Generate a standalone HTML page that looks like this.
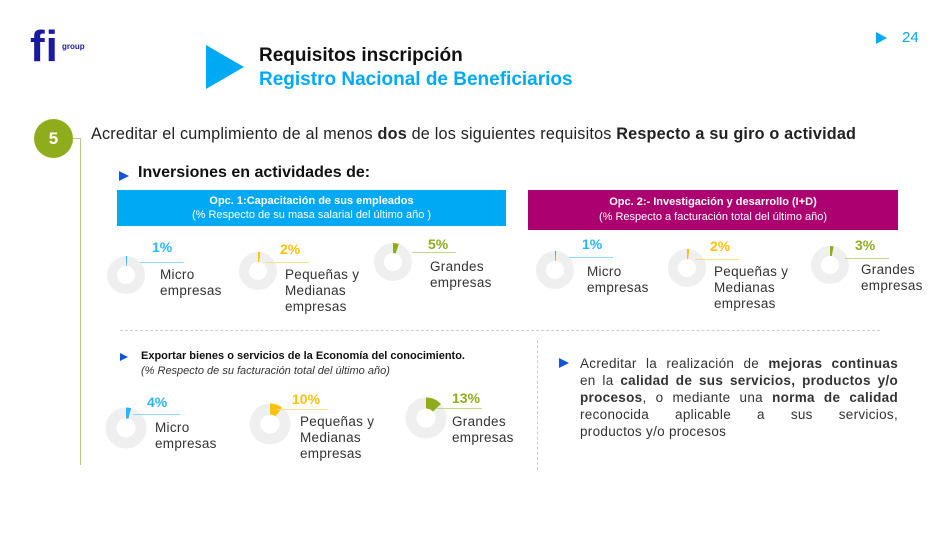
<!DOCTYPE html>
<html><head><meta charset="utf-8">
<style>
*{margin:0;padding:0;box-sizing:border-box}
body{width:947px;height:533px;background:#fff;position:relative;overflow:hidden;font-family:"DejaVu Sans","Liberation Sans",sans-serif;color:#222}
.a{position:absolute;white-space:nowrap}
.lbl{position:absolute;font-size:13.5px;line-height:16px;color:#333;font-family:"Liberation Sans",sans-serif;letter-spacing:0.3px}
.pct{position:absolute;font-size:14px;font-weight:bold;font-family:"Liberation Sans",sans-serif}
.ln{position:absolute;height:1px}
svg.d{position:absolute}
.jl{text-align:justify;text-align-last:justify;height:17px}
</style></head><body>
<!-- logo -->
<div class="a" style="left:30px;top:22px;font-size:44px;font-weight:bold;color:#1a1aa0;font-family:'Liberation Sans',sans-serif;line-height:50px;font-variant-ligatures:none">f<span style="margin-left:1px">i</span></div>
<div class="a" style="left:62px;top:42px;font-size:8px;font-weight:bold;color:#1a1aa0;font-family:'Liberation Sans',sans-serif">group</div>
<!-- page num -->
<div class="a" style="left:876px;top:32px;width:0;height:0;border-top:6px solid transparent;border-bottom:6px solid transparent;border-left:11px solid #00a9f4"></div>
<div class="a" style="left:902px;top:29px;font-size:15px;color:#00a9f4;font-family:'Liberation Sans',sans-serif">24</div>
<!-- header -->
<div class="a" style="left:206px;top:45px;width:0;height:0;border-top:22px solid transparent;border-bottom:22px solid transparent;border-left:38px solid #00a9f4"></div>
<div class="a" style="left:259px;top:45px;font-size:19px;font-weight:bold;color:#111;font-family:'Liberation Sans',sans-serif">Requisitos inscripción</div>
<div class="a" style="left:259px;top:69px;font-size:19px;font-weight:bold;color:#00a9f4;font-family:'Liberation Sans',sans-serif">Registro Nacional de Beneficiarios</div>
<!-- 5 -->
<div class="a" style="left:34px;top:119px;width:39px;height:39px;border-radius:50%;background:#8fac1d;color:#fff;font-weight:bold;font-size:17px;text-align:center;line-height:39px;font-family:'Liberation Sans',sans-serif">5</div>
<div class="a" style="left:73px;top:138px;width:8px;height:1px;background:#b8ca8a"></div>
<div class="a" style="left:80px;top:138px;width:1px;height:327px;background:#b8ca8a"></div>
<div class="a" style="left:91px;top:125px;font-size:16.2px;color:#222;font-family:'Liberation Sans',sans-serif;letter-spacing:0.2px">Acreditar el cumplimiento de al menos <b>dos</b> de los siguientes requisitos <b>Respecto a su giro o actividad</b></div>
<div class="a" style="left:119px;top:171px;width:0;height:0;border-top:5px solid transparent;border-bottom:5px solid transparent;border-left:10px solid #1155dd"></div>
<div class="a" style="left:138px;top:164px;font-size:16px;font-weight:bold;color:#111;font-family:'Liberation Sans',sans-serif">Inversiones en actividades de:</div>
<!-- boxes -->
<div class="a" style="left:117px;top:190px;width:389px;height:36px;background:#00a9f4;color:#fff;text-align:center;font-size:11px;line-height:14px;padding-top:4px;font-family:'Liberation Sans',sans-serif"><b>Opc. 1:Capacitación de sus empleados</b><br>(% Respecto de su masa salarial del último año )</div>
<div class="a" style="left:528px;top:190px;width:370px;height:40px;background:#ad0070;color:#fff;text-align:center;font-size:11px;line-height:15px;padding-top:5px;font-family:'Liberation Sans',sans-serif"><b>Opc. 2:- Investigación y desarrollo (I+D)</b><br>(% Respecto a facturación total del último año)</div>

<svg class="d" style="left:106px;top:255px" width="40" height="40"><circle cx="20" cy="20" r="14" fill="none" stroke="#efefef" stroke-width="10"/><circle cx="20" cy="20" r="14" fill="none" stroke="#29b6f6" stroke-width="10" stroke-dasharray="0.9 100" transform="rotate(-90 20 20)"/></svg>
<div class="pct" style="left:152px;top:239px;color:#29b6f6">1%</div><div class="ln" style="left:140px;top:262px;width:44px;background:#8fd6f8"></div>
<div class="lbl" style="left:160px;top:267px">Micro<br>empresas</div>

<svg class="d" style="left:238px;top:251px" width="40" height="40"><circle cx="20" cy="20" r="14" fill="none" stroke="#efefef" stroke-width="10"/><circle cx="20" cy="20" r="14" fill="none" stroke="#ffc107" stroke-width="10" stroke-dasharray="1.8 100" transform="rotate(-90 20 20)"/></svg>
<div class="pct" style="left:280px;top:241px;color:#ffc107">2%</div><div class="ln" style="left:265px;top:262px;width:44px;background:#ffe08a"></div>
<div class="lbl" style="left:285px;top:267px">Pequeñas y<br>Medianas<br>empresas</div>

<svg class="d" style="left:373px;top:242px" width="40" height="40"><circle cx="20" cy="20" r="14" fill="none" stroke="#efefef" stroke-width="10"/><circle cx="20" cy="20" r="14" fill="none" stroke="#8fac1d" stroke-width="10" stroke-dasharray="4.4 100" transform="rotate(-90 20 20)"/></svg>
<div class="pct" style="left:428px;top:236px;color:#8fac1d">5%</div><div class="ln" style="left:412px;top:252px;width:44px;background:#c4d68a"></div>
<div class="lbl" style="left:430px;top:259px">Grandes<br>empresas</div>

<svg class="d" style="left:535px;top:250px" width="40" height="40"><circle cx="20" cy="20" r="14" fill="none" stroke="#efefef" stroke-width="10"/><circle cx="20" cy="20" r="14" fill="none" stroke="#29b6f6" stroke-width="10" stroke-dasharray="0.9 100" transform="rotate(-90 20 20)"/></svg>
<div class="pct" style="left:582px;top:236px;color:#29b6f6">1%</div><div class="ln" style="left:569px;top:257px;width:44px;background:#8fd6f8"></div>
<div class="lbl" style="left:587px;top:264px">Micro<br>empresas</div>

<svg class="d" style="left:667px;top:248px" width="40" height="40"><circle cx="20" cy="20" r="14" fill="none" stroke="#efefef" stroke-width="10"/><circle cx="20" cy="20" r="14" fill="none" stroke="#ffc107" stroke-width="10" stroke-dasharray="1.8 100" transform="rotate(-90 20 20)"/></svg>
<div class="pct" style="left:710px;top:238px;color:#ffc107">2%</div><div class="ln" style="left:695px;top:259px;width:44px;background:#ffe08a"></div>
<div class="lbl" style="left:714px;top:264px">Pequeñas y<br>Medianas<br>empresas</div>

<svg class="d" style="left:810px;top:245px" width="40" height="40"><circle cx="20" cy="20" r="14" fill="none" stroke="#efefef" stroke-width="10"/><circle cx="20" cy="20" r="14" fill="none" stroke="#8fac1d" stroke-width="10" stroke-dasharray="2.7 100" transform="rotate(-90 20 20)"/></svg>
<div class="pct" style="left:855px;top:237px;color:#8fac1d">3%</div><div class="ln" style="left:845px;top:258px;width:44px;background:#c4d68a"></div>
<div class="lbl" style="left:861px;top:262px">Grandes<br>empresas</div>

<!-- divider -->
<div class="a" style="left:120px;top:330px;width:760px;border-top:1px dashed #ccc"></div>
<div class="a" style="left:537px;top:340px;height:130px;border-left:1px dashed #ccc"></div>

<!-- lower left -->
<div class="a" style="left:120px;top:353px;width:0;height:0;border-top:4px solid transparent;border-bottom:4px solid transparent;border-left:8px solid #1155dd"></div>
<div class="a" style="left:141px;top:350px;font-size:11px;font-weight:bold;color:#111;font-family:'Liberation Sans',sans-serif">Exportar bienes o servicios de la Economía del conocimiento.</div>
<div class="a" style="left:141px;top:365px;font-size:11px;font-style:italic;color:#333;font-family:'Liberation Sans',sans-serif">(% Respecto de su facturación total del último año)</div>

<svg class="d" style="left:104px;top:406px" width="44" height="44"><circle cx="22" cy="22" r="15" fill="none" stroke="#efefef" stroke-width="11"/><circle cx="22" cy="22" r="15" fill="none" stroke="#29b6f6" stroke-width="11" stroke-dasharray="3.8 100" transform="rotate(-90 22 22)"/></svg>
<div class="pct" style="left:147px;top:394px;color:#29b6f6">4%</div><div class="ln" style="left:133px;top:414px;width:47px;background:#8fd6f8"></div>
<div class="lbl" style="left:155px;top:420px">Micro<br>empresas</div>

<svg class="d" style="left:248px;top:402px" width="44" height="44"><circle cx="22" cy="22" r="15" fill="none" stroke="#efefef" stroke-width="11"/><circle cx="22" cy="22" r="15" fill="none" stroke="#ffc107" stroke-width="11" stroke-dasharray="9.4 100" transform="rotate(-90 22 22)"/></svg>
<div class="pct" style="left:292px;top:391px;color:#ffc107">10%</div><div class="ln" style="left:277px;top:409px;width:51px;background:#ffe08a"></div>
<div class="lbl" style="left:300px;top:414px">Pequeñas y<br>Medianas<br>empresas</div>

<svg class="d" style="left:404px;top:396px" width="44" height="44"><circle cx="22" cy="22" r="15" fill="none" stroke="#efefef" stroke-width="11"/><circle cx="22" cy="22" r="15" fill="none" stroke="#8fac1d" stroke-width="11" stroke-dasharray="12.3 100" transform="rotate(-90 22 22)"/></svg>
<div class="pct" style="left:452px;top:390px;color:#8fac1d">13%</div><div class="ln" style="left:437px;top:408px;width:45px;background:#c4d68a"></div>
<div class="lbl" style="left:452px;top:414px">Grandes<br>empresas</div>

<!-- lower right -->
<div class="a" style="left:559px;top:358px;width:0;height:0;border-top:5px solid transparent;border-bottom:5px solid transparent;border-left:10px solid #1155dd"></div>
<div class="a" style="left:580px;top:355px;width:318px;white-space:nowrap;font-size:13.5px;line-height:17px;color:#333;font-family:'Liberation Sans',sans-serif;letter-spacing:0.3px">
<div class="jl">Acreditar la realización de <b>mejoras continuas</b></div>
<div class="jl">en la <b>calidad de sus servicios, productos y/o</b></div>
<div class="jl"><b>procesos</b>, o mediante una <b>norma de calidad</b></div>
<div class="jl">reconocida aplicable a sus servicios,</div>
<div style="height:17px">productos y/o procesos</div>
</div>
</body></html>
